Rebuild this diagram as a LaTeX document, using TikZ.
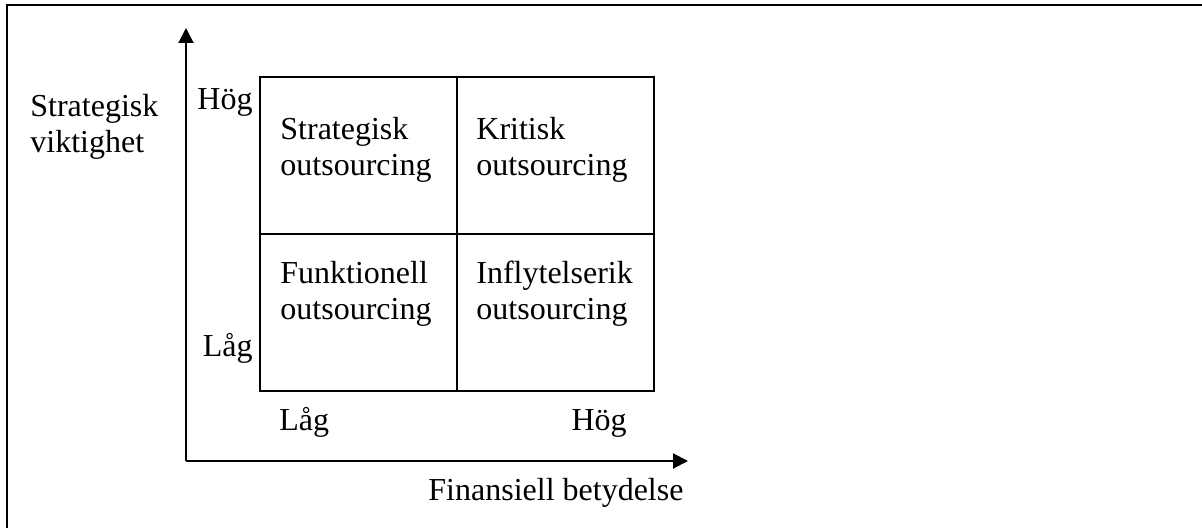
\documentclass[tikz,border=0pt]{standalone}
\usepackage{fontspec}
\setmainfont{Liberation Serif}
\usetikzlibrary{arrows.meta}
\begin{document}
\begin{tikzpicture}[x=0.5pt,y=-0.5pt,
  lbl/.style={inner sep=0pt, font=\fontsize{16pt}{18.4pt}\selectfont, align=left},
  cell/.style={draw, line width=1pt, inner sep=0pt, anchor=north west, minimum width=98.5pt, minimum height=78.5pt},
  axis/.style={line width=1pt, -{Triangle[length=7.5pt,width=7.5pt]}},
  frame/.style={line width=1.3pt}]
\useasboundingbox (0,0) rectangle (1202,528);
\coordinate (fbl) at (7,528);
\coordinate (ftl) at (7,5);
\coordinate (ftr) at (1202,5);
\draw[frame] (fbl) -- (ftl) -- (ftr);
% grid cells
\node[cell] (tl) at (259,76) {};
\node[cell] (tr) at (456,76) {};
\node[cell] (bl) at (259,233) {};
\node[cell] (br) at (456,233) {};
% axes
\coordinate (o) at (186,461);
\coordinate (ytip) at (186,28);
\coordinate (xtip) at (688,461);
\draw[axis] (o) -- (ytip);
\draw[axis] (o) -- (xtip);
% labels (multi-line nodes: base = last line)
\node[lbl, anchor=base west] (ylab) at (30,153) {Strategisk\\viktighet};
\node[lbl, anchor=base east] (yhi) at (253,110) {Hög};
\node[lbl, anchor=base east] (ylo) at (253,357) {Låg};
\node[lbl, anchor=base west] (xlo) at (279,430) {Låg};
\node[lbl, anchor=base east] (xhi) at (627,430) {Hög};
\node[lbl, anchor=base west] (xlab) at (428,500) {Finansiell betydelse};
% cell texts
\node[lbl, anchor=base west] (ttl) at (280,176) {Strategisk\\outsourcing};
\node[lbl, anchor=base west] (ttr) at (476,176) {Kritisk\\outsourcing};
\node[lbl, anchor=base west] (tbl) at (280,320) {Funktionell\\outsourcing};
\node[lbl, anchor=base west] (tbr) at (476,320) {Inflytelserik\\outsourcing};
\end{tikzpicture}
\end{document}
